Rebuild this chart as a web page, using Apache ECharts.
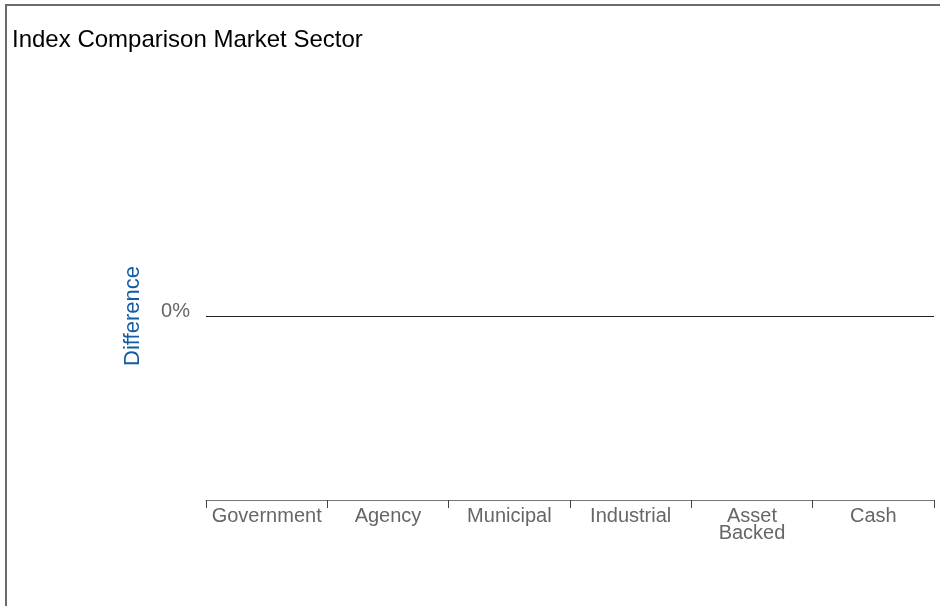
<!DOCTYPE html>
<html>
<head>
<meta charset="utf-8">
<script src="https://cdn.jsdelivr.net/npm/echarts@6/dist/echarts.min.js"></script>
<style>
  html, body { margin: 0; padding: 0; background: #fff; }
  #main { width: 940px; height: 606px; }
</style>
</head>
<body>
<div id="main"></div>
<script>
// chart data
const categories = ['Government', 'Agency', 'Municipal', 'Industrial', 'Asset\nBacked', 'Cash'];
const differenceValues = [0, 0, 0, 0, 0, 0];
const yTicks = [-1, 0, 1];
const zeroLine = 0;

const font = 'Liberation Sans, Arial, sans-serif';
const chart = echarts.init(document.getElementById('main'));

const option = {
  animation: false,
  backgroundColor: '#fff',
  title: {
    text: 'Index Comparison Market Sector',
    left: 12,
    top: 28,
    padding: 0,
    textStyle: {
      fontFamily: font,
      fontSize: 24,
      fontWeight: 'normal',
      color: '#000'
    }
  },
  graphic: [
    {
      type: 'polyline',
      silent: true,
      shape: { points: [[6, 606], [6, 5], [940, 5]] },
      style: { stroke: '#6b6b6b', lineWidth: 2, fill: null }
    }
  ],
  grid: {
    left: 206,
    right: 6,
    top: 132,
    bottom: 106
  },
  xAxis: {
    type: 'category',
    data: categories,
    boundaryGap: true,
    axisLine: { onZero: false, lineStyle: { color: '#777', width: 1 } },
    axisTick: { show: true, interval: 0, length: 8, lineStyle: { color: '#444' } },
    axisLabel: {
      interval: 0,
      margin: 8,
      color: '#666',
      fontFamily: font,
      fontSize: 20,
      lineHeight: 17
    },
    splitLine: { show: false }
  },
  yAxis: {
    type: 'value',
    min: yTicks[0],
    max: yTicks[yTicks.length - 1],
    interval: 1,
    name: 'Difference',
    nameLocation: 'middle',
    nameRotate: 90,
    nameGap: 62,
    nameTextStyle: {
      color: '#125ca6',
      fontFamily: font,
      fontSize: 22
    },
    axisLine: { show: false },
    axisTick: { show: false },
    splitLine: { show: false },
    axisLabel: {
      margin: 16,
      color: '#666',
      fontFamily: font,
      fontSize: 20,
      verticalAlign: 'bottom',
      lineHeight: 9,
      formatter: v => (v === 0 ? '0%' : '')
    }
  },
  series: [
    {
      name: 'Difference',
      type: 'bar',
      data: differenceValues,
      barWidth: '50%',
      itemStyle: { color: '#125ca6' },
      markLine: {
        silent: true,
        symbol: 'none',
        label: { show: false },
        lineStyle: { color: '#222', width: 1, type: 'solid' },
        data: [{ yAxis: zeroLine }]
      }
    }
  ]
};

chart.setOption(option);
</script>
</body>
</html>
